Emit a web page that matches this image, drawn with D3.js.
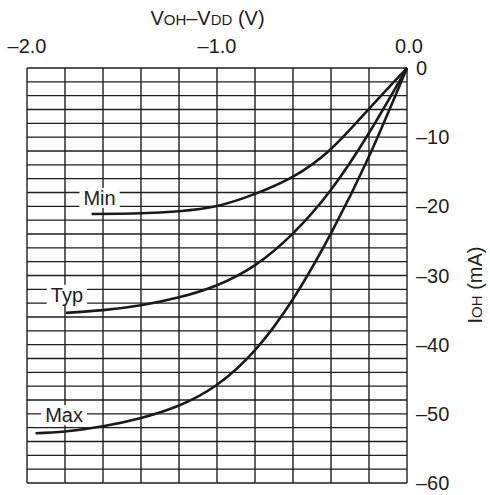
<!DOCTYPE html>
<html><head><meta charset="utf-8">
<script src="https://cdn.jsdelivr.net/npm/d3@7/dist/d3.min.js"></script>
<style>html,body{margin:0;padding:0;background:#fff;} svg{display:block;font-family:"Liberation Sans",Arial,sans-serif;}</style>
</head><body>
<svg id="c" width="490" height="495"></svg>
<script>
// Data
const seriesNames = ["Min", "Typ", "Max"];
const minV = [-1.66, -1.4, -1.2, -1.0, -0.8, -0.6, -0.4, -0.2, 0];
const minI = [-21.1, -21.0, -20.7, -19.95, -18.2, -15.7, -11.7, -5.9, 0];
const typV = [-1.795, -1.6, -1.4, -1.2, -1.0, -0.8, -0.6, -0.4, -0.2, 0];
const typI = [-35.4, -35.0, -34.3, -33.15, -31.4, -28.5, -23.9, -17.6, -9.4, 0];
const maxV = [-1.955, -1.8, -1.6, -1.4, -1.2, -1.0, -0.8, -0.6, -0.4, -0.2, 0];
const maxI = [-52.8, -52.55, -51.8, -50.6, -48.8, -45.8, -40.8, -33.4, -23.9, -12.8, 0];
const xTicks = [-2.0, -1.0, 0.0];
const xTickLabels = ["–2.0", "–1.0", "0.0"];
const yTicks = [0, -10, -20, -30, -40, -50, -60];
const yTickLabels = ["0", "–10", "–20", "–30", "–40", "–50", "–60"];
const labelV = [-1.618, -1.79, -1.805];
const labelI = [-18.8, -32.8, -50.2];

const svg = d3.select("#c");
const x = d3.scaleLinear().domain([-2, 0]).range([27, 407]);
const y = d3.scaleLinear().domain([0, -60]).range([68, 483]);
const ink = "#1e1e1e";

// grid
const g = svg.append("g");
g.selectAll("line.v").data(d3.range(0, 11).map(k => -2 + k * 0.2)).join("line")
  .attr("x1", d => x(d)).attr("x2", d => x(d)).attr("y1", y(0)).attr("y2", y(-60))
  .attr("stroke", ink).attr("stroke-width", 1.4);
g.selectAll("line.h").data(d3.range(0, 31).map(k => -2 * k)).join("line")
  .attr("x1", x(-2)).attr("x2", x(0)).attr("y1", d => y(d)).attr("y2", d => y(d))
  .attr("stroke", ink).attr("stroke-width", 1.4);

// curves
const series = [
  {name: seriesNames[0], v: minV, i: minI},
  {name: seriesNames[1], v: typV, i: typI},
  {name: seriesNames[2], v: maxV, i: maxI}
];
const line = d3.line().x(d => x(d[0])).y(d => y(d[1])).curve(d3.curveNatural);
svg.append("g").selectAll("path").data(series).join("path")
  .attr("d", s => line(s.v.map((v, k) => [v, s.i[k]])))
  .attr("fill", "none").attr("stroke", "#1a1a1a").attr("stroke-width", 2.6)
  .attr("stroke-linecap", "butt");

// labels with white boxes
const lg = svg.append("g");
series.forEach((s, k) => {
  const t = lg.append("text").attr("x", x(labelV[k])).attr("y", y(labelI[k]) + 7)
    .attr("text-anchor", "middle").attr("font-size", 20).attr("fill", ink).text(s.name);
  const bb = t.node().getBBox();
  lg.insert("rect", "text").attr("x", bb.x - 4).attr("y", y(labelI[k]) - 10)
    .attr("width", bb.width + 8).attr("height", 20).attr("fill", "#fff");
});

// top axis labels
svg.append("g").selectAll("text").data(xTicks).join("text")
  .attr("x", d => x(d) + (d === 0 ? 2 : 0)).attr("y", 53)
  .attr("text-anchor", "middle").attr("font-size", 20).attr("fill", ink)
  .text((d, k) => xTickLabels[k]);

// right axis labels
svg.append("g").selectAll("text").data(yTicks).join("text")
  .attr("x", 416).attr("y", d => y(d) + 7)
  .attr("text-anchor", "start").attr("font-size", 20).attr("fill", ink)
  .text((d, k) => yTickLabels[k]);

// top title
const tt = svg.append("text").attr("x", 207.5).attr("y", 25).attr("text-anchor", "middle")
  .attr("font-size", 20).attr("fill", ink);
tt.append("tspan").text("V");
tt.append("tspan").attr("font-size", 15).text("OH");
tt.append("tspan").text("–V");
tt.append("tspan").attr("font-size", 15).text("DD");
tt.append("tspan").text(" (V)");

// right title
const rt = svg.append("text").attr("transform", "translate(482,285) rotate(-90)")
  .attr("text-anchor", "middle").attr("font-size", 20).attr("fill", ink);
rt.append("tspan").text("I");
rt.append("tspan").attr("font-size", 15).text("OH");
rt.append("tspan").text(" (mA)");
</script>
</body></html>
